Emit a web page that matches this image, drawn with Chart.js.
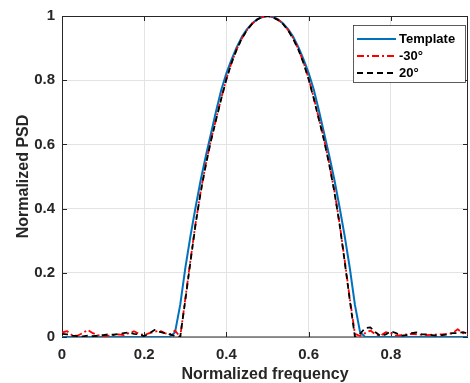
<!DOCTYPE html>
<html><head><meta charset="utf-8">
<script src="https://cdn.jsdelivr.net/npm/chart.js@4/dist/chart.umd.min.js"></script>
<style>html,body{margin:0;padding:0;background:#fff;}#wrap{width:470px;height:383px;}</style>
</head><body><div id="wrap"><canvas id="c" width="470" height="383"></canvas></div>
<script>
const freq = [0,0.0125,0.025,0.0375,0.05,0.0625,0.075,0.0875,0.1,0.1125,0.125,0.1375,0.15,0.1625,0.175,0.1875,0.2,0.2125,0.225,0.2375,0.25,0.2625,0.275,0.2875,0.3,0.3125,0.325,0.3375,0.35,0.3625,0.375,0.3875,0.4,0.4125,0.425,0.4375,0.45,0.4625,0.475,0.4875,0.5,0.5125,0.525,0.5375,0.55,0.5625,0.575,0.5875,0.6,0.6125,0.625,0.6375,0.65,0.6625,0.675,0.6875,0.7,0.7125,0.725,0.7375,0.75,0.7625,0.775,0.7875,0.8,0.8125,0.825,0.8375,0.85,0.8625,0.875,0.8875,0.9,0.9125,0.925,0.9375,0.95,0.9625,0.975,0.9875];
const template = [0,0,0,0,0,0,0,0,0,0,0,0,0,0,0,0,0,0,0,0,0,0,
  0.015,0.10,0.215,0.315,0.405,0.49,0.565,0.635,0.705,0.77,0.822,0.865,0.903,0.935,0.959,0.977,0.99,0.997,1.0,
  0.997,0.99,0.977,0.959,0.935,0.903,0.865,0.822,0.77,0.705,0.635,0.565,0.49,0.405,0.315,0.215,0.10,0.015,
  0,0,0,0,0,0,0,0,0,0,0,0,0,0,0,0,0,0,0,0,0];
const minus30 = [0.014,0.018,0.005,0.004,0.012,0.022,0.012,0.006,0.003,0.004,0.006,0.008,0.006,0.012,0.018,0.010,0.006,0.012,0.016,0.020,0.012,0.008,0.02,0.0,
  0.12,0.24,0.355,0.455,0.54,0.615,0.68,0.745,0.805,0.855,0.897,0.93,0.956,0.976,0.989,0.997,1.0,
  0.997,0.989,0.976,0.956,0.93,0.897,0.855,0.805,0.745,0.68,0.615,0.54,0.455,0.355,0.24,0.12,0.01,
  0.003,0.012,0.02,0.008,0.004,0.015,0.012,0.004,0.006,0.008,0.01,0.008,0.007,0.006,0.007,0.008,0.008,0.01,0.012,0.024,0.012,0.008];
const plus20 = [0.010,0.008,0.004,0.003,0.002,0.004,0.003,0.004,0.006,0.008,0.007,0.009,0.012,0.014,0.010,0.008,0.003,0.012,0.022,0.016,0.012,0.008,0.003,0.0,
  0.115,0.235,0.352,0.452,0.537,0.612,0.678,0.743,0.803,0.854,0.896,0.93,0.956,0.976,0.989,0.998,1.0,
  0.996,0.988,0.975,0.955,0.928,0.895,0.853,0.802,0.742,0.677,0.612,0.537,0.452,0.352,0.235,0.115,0.0,
  0.01,0.028,0.03,0.015,0.003,0.008,0.018,0.012,0.004,0.006,0.012,0.014,0.008,0.008,0.006,0.004,0.006,0.008,0.012,0.012,0.015,0.01];
const xTicks = [0,0.2,0.4,0.6,0.8];
const yTicks = [0,0.2,0.4,0.6,0.8,1];
const seriesNames = ['Template','-30°','20°'];
const xTitle = 'Normalized frequency';
const yTitle = 'Normalized PSD';

const pts = arr => arr.map((v,i)=>({x:freq[i], y:v}));
const FONT = "'Liberation Sans', Arial, Helvetica, sans-serif";
const TXT = '#262626';

const frame = {
  id:'frame',
  beforeDatasetsDraw(chart){
    const {ctx, chartArea:a, scales:{x,y}} = chart;
    ctx.save();
    ctx.strokeStyle = TXT; ctx.lineWidth = 1;
    ctx.beginPath();
    xTicks.forEach(v=>{const px=Math.round(x.getPixelForValue(v))+0.5;
      ctx.moveTo(px,a.bottom); ctx.lineTo(px,a.bottom-5);
      ctx.moveTo(px,a.top); ctx.lineTo(px,a.top+5);});
    yTicks.forEach(v=>{const py=Math.round(y.getPixelForValue(v))+0.5;
      ctx.moveTo(a.left,py); ctx.lineTo(a.left+5,py);
      ctx.moveTo(a.right,py); ctx.lineTo(a.right-5,py);});
    ctx.stroke();
    ctx.strokeRect(Math.round(a.left)+0.5, Math.round(a.top)+0.5, Math.round(a.right-a.left)-1, Math.round(a.bottom-a.top)-0.5);
    ctx.restore();
  },
  afterDatasetsDraw(chart){
    const {ctx, chartArea:a} = chart;
    const bx = Math.round(a.right)-115, by = Math.round(a.top)+9, bw = 112, bh = 57;
    ctx.save();
    ctx.fillStyle = '#fff';
    ctx.fillRect(bx,by,bw,bh);
    ctx.strokeStyle = '#333'; ctx.lineWidth = 0.8;
    ctx.strokeRect(bx+0.5,by+0.5,bw,bh);
    chart.data.datasets.forEach((ds,i)=>{
      const ry = by + 14 + i*17;
      ctx.strokeStyle = ds.borderColor; ctx.lineWidth = ds.borderWidth;
      ctx.setLineDash(ds.borderDash || []);
      ctx.beginPath(); ctx.moveTo(bx+4, ry); ctx.lineTo(bx+43, ry); ctx.stroke();
      ctx.setLineDash([]);
      ctx.fillStyle = '#000'; ctx.font = 'bold 13px ' + FONT;
      ctx.textBaseline = 'middle'; ctx.textAlign = 'left';
      ctx.fillText(ds.label, bx+46, ry+0.5);
    });
    ctx.restore();
  }
};

new Chart(document.getElementById('c'), {
  type:'line',
  data:{datasets:[
    {label:seriesNames[0], data:pts(template), borderColor:'#0072BD', borderWidth:2, order:3},
    {label:seriesNames[1], data:pts(minus30), borderColor:'#ff0000', borderWidth:1.8, borderDash:[7,3,2,3], order:2},
    {label:seriesNames[2], data:pts(plus20), borderColor:'#000000', borderWidth:1.8, borderDash:[6,4], order:1}
  ]},
  options:{
    responsive:false, animation:false, devicePixelRatio:1,
    layout:{padding:{top:16,right:2,left:0,bottom:0}},
    elements:{point:{radius:0}, line:{tension:0, borderJoinStyle:'round'}},
    plugins:{legend:{display:false}, tooltip:{enabled:false}},
    scales:{
      x:{type:'linear', min:0, max:0.9875,
        afterBuildTicks(ax){ax.ticks = xTicks.map(v=>({value:v}));},
        afterFit(ax){ax.height = 46;},
        grid:{color:'#e3e3e3', lineWidth:1, drawTicks:false},
        border:{display:false},
        ticks:{padding:9, color:TXT, font:{family:FONT, size:15, weight:'bold'}, maxRotation:0, callback:v=>String(v)},
        title:{display:true, text:xTitle, color:TXT, font:{family:FONT, size:16, weight:'bold', lineHeight:1.0}, padding:{top:0,bottom:0}}
      },
      y:{type:'linear', min:0, max:1,
        afterBuildTicks(ax){ax.ticks = yTicks.map(v=>({value:v}));},
        afterFit(ax){ax.width = 62;},
        grid:{color:'#e3e3e3', lineWidth:1, drawTicks:false},
        border:{display:false},
        ticks:{padding:7, color:TXT, font:{family:FONT, size:15, weight:'bold'}, callback:v=>String(v)},
        title:{display:true, text:yTitle, color:TXT, font:{family:FONT, size:16, weight:'bold'}, padding:{top:14,bottom:0}}
      }
    }
  },
  plugins:[frame]
});
</script></body></html>
